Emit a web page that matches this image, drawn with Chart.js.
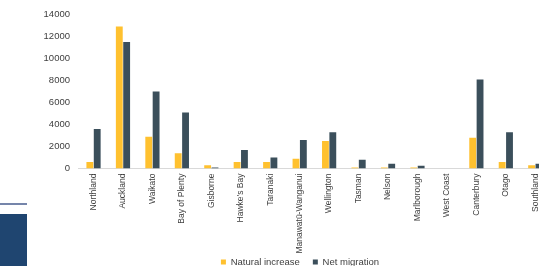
<!DOCTYPE html>
<html>
<head>
<meta charset="utf-8">
<script src="https://cdn.jsdelivr.net/npm/chart.js@4/dist/chart.umd.min.js"></script>
<style>
  html, body { margin: 0; padding: 0; background: #fff; overflow: hidden; }
  #wrap { position: relative; width: 539px; height: 266px; overflow: hidden; }
  #regionChart { position: absolute; left: 0; top: 0; }
  /* bits of the slide behind the chart */
  .deco-line { position: absolute; left: 0; top: 203px; width: 27px; height: 2px; background: #7585aa; }
  .deco-box { position: absolute; left: 0; top: 214px; width: 27px; height: 52px; background: #1f4570; }
</style>
</head>
<body>
<div id="wrap">
  <canvas id="regionChart" width="552" height="266"></canvas>
  <div class="deco-line"></div>
  <div class="deco-box"></div>
</div>
<script>
// regions
var regions = ['Northland', 'Auckland', 'Waikato', 'Bay of Plenty', 'Gisborne', "Hawke's Bay",
  'Taranaki', 'Manawatū-Wanganui', 'Wellington', 'Tasman', 'Nelson', 'Marlborough',
  'West Coast', 'Canterbury', 'Otago', 'Southland'];
var naturalIncrease = [600, 12900, 2900, 1400, 300, 600, 600, 900, 2500, 100, 100, 100, 0, 2800, 600, 300];
var netMigration = [3600, 11500, 7000, 5100, 100, 1700, 1000, 2600, 3300, 800, 450, 250, 0, 8100, 3300, 450];
var yTicks = [0, 2000, 4000, 6000, 8000, 10000, 12000, 14000];

// legend sits a bit right of centre and lower than chart.js puts it
var nudgeLegend = {
  id: 'nudgeLegend',
  afterLayout(chart) {
    var lg = chart.legend;
    lg.left += 25; lg.right += 25;
    lg.top -= 10.4; lg.bottom -= 10.4;
  }
};

var ctx = document.getElementById('regionChart').getContext('2d');
new Chart(ctx, {
  type: 'bar',
  data: {
    labels: regions,
    datasets: [
      {
        label: 'Natural increase',
        data: naturalIncrease,
        backgroundColor: '#ffc12f',
        categoryPercentage: 0.5,
        barPercentage: 0.93
      },
      {
        label: 'Net migration',
        data: netMigration,
        backgroundColor: '#3b4f5b',
        categoryPercentage: 0.5,
        barPercentage: 0.93
      }
    ]
  },
  options: {
    responsive: false,
    animation: false,
    // negative bottom so the tall x labels fit and the legend hangs low
    layout: { padding: { top: 12.7, right: 2, bottom: -21.1, left: 0 } },
    plugins: {
      tooltip: { enabled: false },
      legend: {
        position: 'bottom',
        labels: {
          boxWidth: 5,
          boxHeight: 5,
          padding: 13,
          color: '#404040',
          font: { family: '"Liberation Sans", Arial, sans-serif', size: 9.5 }
        }
      }
    },
    scales: {
      x: {
        grid: { display: false, drawTicks: false },
        border: { display: true, color: '#d9d9d9', width: 1 },
        ticks: {
          autoSkip: false,
          maxRotation: 90,
          minRotation: 90,
          padding: 5,
          color: '#404040',
          font: { family: '"Liberation Sans", Arial, sans-serif', size: 8.5 }
        },
        afterFit: function (s) { s.height = 86; }
      },
      y: {
        min: 0,
        max: 14000,
        grid: { display: false, drawTicks: false },
        border: { display: false },
        afterBuildTicks: function (s) { s.ticks = yTicks.map(function (v) { return { value: v }; }); },
        ticks: {
          padding: 8.8,
          color: '#404040',
          font: { family: '"Liberation Sans", Arial, sans-serif', size: 9.5 },
          callback: function (v) { return String(v); }
        },
        afterFit: function (s) { s.width = 78.8; }
      }
    }
  },
  plugins: [nudgeLegend]
});
</script>
</body>
</html>
